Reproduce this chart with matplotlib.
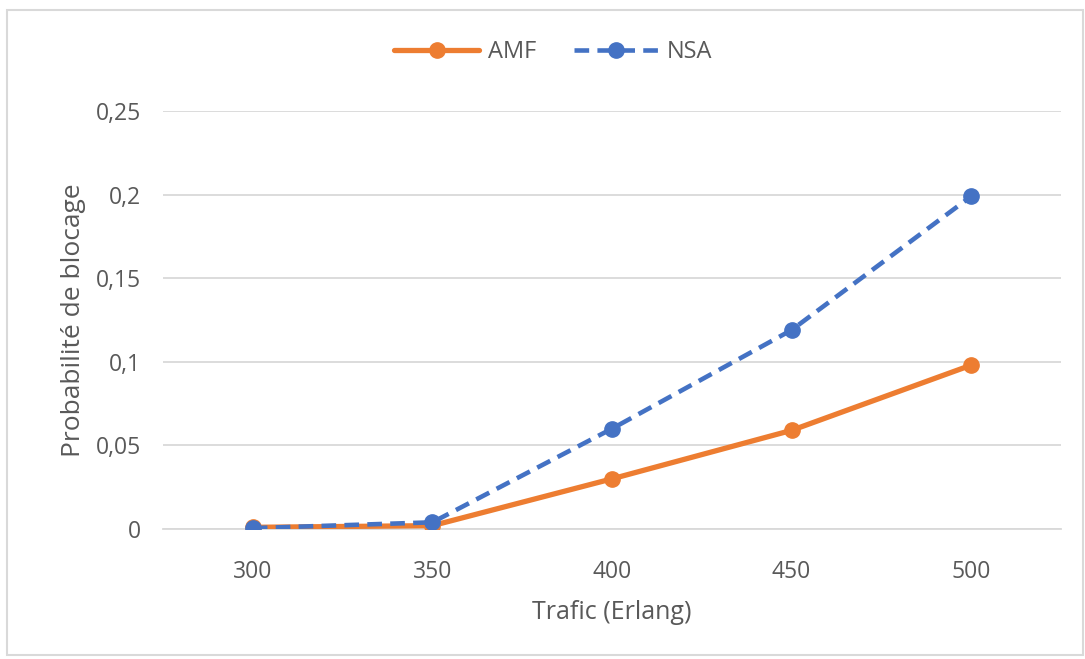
import matplotlib.pyplot as plt
from matplotlib.patches import Rectangle
from matplotlib.ticker import FuncFormatter

trafic = ["300", "350", "400", "450", "500"]
amf = [0.001, 0.002, 0.030, 0.059, 0.098]
nsa = [0.0005, 0.004, 0.060, 0.119, 0.199]
yticks = [0, 0.05, 0.1, 0.15, 0.2, 0.25]

plt.rcParams['font.family'] = ['Open Sans', 'DejaVu Sans']
gris = '#595959'

fig = plt.figure(figsize=(10.85, 6.59), dpi=100)
ax = fig.add_axes([163/1085, 1-529/659, (1061-163)/1085, (529-111)/659])

x = range(len(trafic))
ax.plot(x, amf, color='#ed7d31', lw=3.8, marker='o', ms=11, label='AMF',
        solid_capstyle='round', zorder=3)
ax.plot(x, nsa, color='#4472c4', lw=3.3, ls=(0, (3.2, 1.8)), marker='o', ms=11,
        label='NSA', zorder=4)

ax.set_xlim(-0.5, len(trafic) - 0.5)
ax.set_ylim(0, 0.25)
ax.set_xticks(list(x))
ax.set_xticklabels(trafic)
ax.set_yticks(yticks)
ax.yaxis.set_major_formatter(FuncFormatter(lambda v, p: ('%g' % v).replace('.', ',')))
ax.grid(axis='y', color='#d9d9d9', lw=1.3)
ax.set_axisbelow(True)
for s in ['top', 'right', 'left']:
    ax.spines[s].set_visible(False)
ax.spines['bottom'].set_color('#d9d9d9')
ax.spines['bottom'].set_linewidth(1.3)
ax.tick_params(length=0, labelsize=16.5, colors=gris, pad=22)
ax.tick_params(axis='y', pad=16)

ax.set_xlabel('Trafic (Erlang)', fontsize=18, color=gris, labelpad=12)
ax.set_ylabel('Probabilité de blocage', fontsize=19, color=gris, labelpad=7)

fig.legend(loc='center', bbox_to_anchor=(0.51, 1-52/659), ncol=2, frameon=False,
           fontsize=17, labelcolor=gris, handlelength=3.6, columnspacing=1.6,
           handletextpad=0.35)

fig.patches.append(Rectangle((7/1085, 4/659), 1076/1085, 645/659, transform=fig.transFigure,
                             fill=False, edgecolor='#d9d9d9', lw=1.5))

fig.savefig('out.png', dpi=100)
